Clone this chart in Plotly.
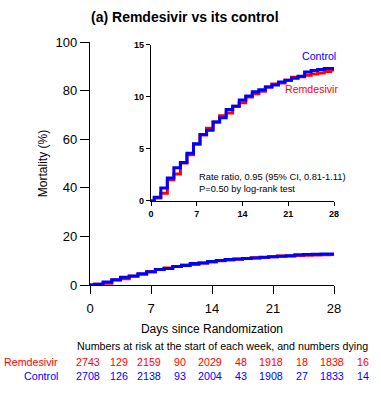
import plotly.graph_objects as go

# ---- data ----
step_days = [0, 0.5, 1.5, 2.5, 3.5, 4.5, 5.5, 6.5, 7.5, 8.5, 9.5, 10.5, 11.5, 12.5, 13.5,
             14.5, 15.5, 16.5, 17.5, 18.5, 19.5, 20.5, 21.5, 22.5, 23.5, 24.5, 25.5, 26.5, 27.5, 28]
control_mort = [0, 0.35, 1.25, 2.2, 3.2, 3.7, 4.6, 5.5, 6.4, 6.8, 7.6, 8.0, 8.8, 9.1, 9.7,
                10.1, 10.5, 10.7, 10.95, 11.15, 11.45, 11.6, 11.8, 12.0, 12.4, 12.55, 12.65, 12.75, 12.75, 12.75]
remdesivir_mort = [0, 0.3, 0.75, 2.05, 2.6, 3.65, 4.45, 5.45, 6.35, 7.0, 7.6, 8.2, 8.45, 9.1, 9.45,
                   10.0, 10.3, 10.55, 10.95, 11.25, 11.35, 11.6, 11.9, 11.95, 12.1, 12.2, 12.3, 12.45, 12.6, 12.6]

week_days = [0, 7, 14, 21, 28]
remdesivir_at_risk = [2743, 2159, 2029, 1918, 1838]
remdesivir_dying = [129, 90, 48, 18, 16]
control_at_risk = [2708, 2138, 2004, 1908, 1833]
control_dying = [126, 93, 43, 27, 14]

main_yticks = [0, 20, 40, 60, 80, 100]
inset_yticks = [0, 5, 10, 15]

RED = "#ff0000"
BLUE = "#0000ff"
FONT = "Liberation Sans, Arial, sans-serif"

fig = go.Figure()

for xa, ya in [("x", "y"), ("x2", "y2")]:
    fig.add_trace(go.Scatter(x=step_days, y=remdesivir_mort, mode="lines", line_shape="hv",
                             line=dict(color=RED, width=3), xaxis=xa, yaxis=ya, showlegend=False,
                             hoverinfo="skip"))
    fig.add_trace(go.Scatter(x=step_days, y=control_mort, mode="lines", line_shape="hv",
                             line=dict(color=BLUE, width=3), xaxis=xa, yaxis=ya, showlegend=False,
                             hoverinfo="skip"))

axis_common = dict(showgrid=False, zeroline=False, showline=True, linecolor="black", linewidth=1.3,
                   ticks="outside", tickcolor="black", tickwidth=1.3)

fig.update_layout(
    width=381, height=395,
    margin=dict(l=90, r=47, t=42, b=110),
    plot_bgcolor="white", paper_bgcolor="white",
    font=dict(family=FONT, color="black"),
    title=dict(text="<b>(a) Remdesivir vs its control</b>", x=0.485, xanchor="center",
               y=0.957, yanchor="middle", font=dict(size=14, family=FONT)),
    xaxis=dict(range=[0, 28], tickvals=week_days, ticklen=8, tickfont=dict(size=13),
               ticklabelstandoff=3,
               title=dict(text="Days since Randomization", font=dict(size=12), standoff=9),
               **axis_common),
    yaxis=dict(range=[0, 100], tickvals=main_yticks, ticklen=9, tickfont=dict(size=13),
               title=dict(text="Mortality (%)", font=dict(size=12), standoff=5),
               **axis_common),
    xaxis2=dict(domain=[0.25, 1.0], anchor="y2", range=[0, 28], tickvals=week_days, ticklen=4,
                tickfont=dict(size=9, weight="bold"), **axis_common),
    yaxis2=dict(domain=[0.3457, 0.9877], anchor="x2", range=[0, 15], tickvals=inset_yticks, ticklen=4,
                tickfont=dict(size=9, weight="bold"), **axis_common),
)

ann = []
# inset labels
ann.append(dict(text="Control", x=0.9385, y=0.9436, xref="paper", yref="paper", showarrow=False,
                font=dict(size=10.6, color=BLUE), xanchor="center", yanchor="middle"))
ann.append(dict(text="Remdesivir", x=0.906, y=0.8078, xref="paper", yref="paper", showarrow=False,
                font=dict(size=10.6, color=RED), xanchor="center", yanchor="middle"))
ann.append(dict(text="Rate ratio, 0.95 (95% CI, 0.81-1.11)<br>P=0.50 by log-rank test",
                x=0.437, y=0.4198, xref="paper", yref="paper", showarrow=False, align="left",
                font=dict(size=9.3), xanchor="left", yanchor="middle"))

# risk table
def px_y(py):
    return (285 - py) / 243.0

TF = 10.7
ann.append(dict(text="Numbers at risk at the start of each week, and numbers dying",
                x=-0.061, y=px_y(346), xref="paper", yref="paper", showarrow=False,
                font=dict(size=TF), xanchor="left", yanchor="middle"))
rows = [("Remdesivir", RED, remdesivir_at_risk, remdesivir_dying, 362),
        ("Control", BLUE, control_at_risk, control_dying, 376)]
for name, col, risk, dying, py in rows:
    ann.append(dict(text=name, x=-0.123, y=px_y(py), xref="paper", yref="paper", showarrow=False,
                    font=dict(size=TF, color=col), xanchor="right", yanchor="middle"))
    for d, r, k in zip(week_days, risk, dying):
        ann.append(dict(text=str(r), x=(d - 0.25) / 28.0, y=px_y(py), xref="paper", yref="paper",
                        showarrow=False, font=dict(size=TF, color=col), xanchor="center", yanchor="middle"))
        ann.append(dict(text=str(k), x=(d + 3.3) / 28.0, y=px_y(py), xref="paper", yref="paper",
                        showarrow=False, font=dict(size=TF, color=col), xanchor="center", yanchor="middle"))

fig.update_layout(annotations=ann)
fig.write_html("out.html", config={"displayModeBar": False},
               post_script="document.body.style.margin='0';")
